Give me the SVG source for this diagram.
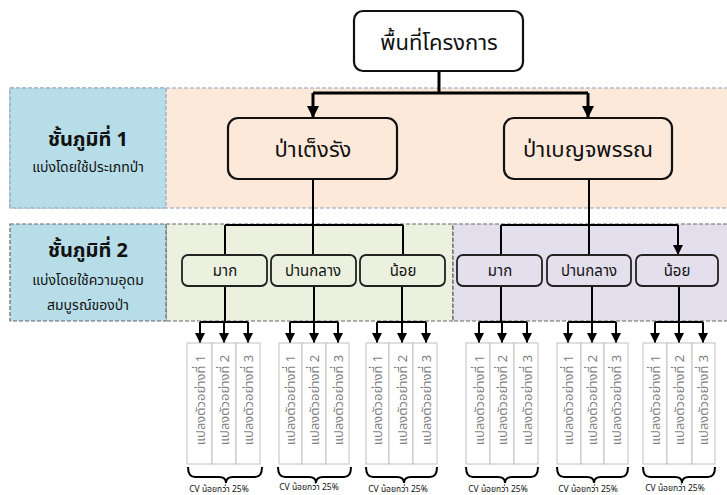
<svg xmlns="http://www.w3.org/2000/svg" width="727" height="495" viewBox="0 0 727 495">
<style>
text{font-family:"Noto Sans Thai","Noto Sans","DejaVu Sans",sans-serif;fill:#111;}
.big{font-size:22px;}
.mid{font-size:15px;}
.h{font-size:20px;font-weight:bold;}
.sub{font-size:14px;}
.plot{font-size:13px;fill:#7f7f7f;}
.cv{font-size:8.5px;}
.nb{fill:#fff;stroke:#111;stroke-width:2.2;}
.nb1{fill:none;stroke:#111;stroke-width:2.2;}
.nb2{fill:none;stroke:#222;stroke-width:1.8;}
.col{fill:#fff;stroke:#c0c0c0;stroke-width:1;}
.c3{fill:none;stroke:#000;stroke-width:3;}
.c2{fill:none;stroke:#000;stroke-width:2;}
.br{fill:none;stroke:#000;stroke-width:2;}
</style>
<defs>
<marker id="ah" viewBox="0 0 10 10" refX="10" refY="5" markerWidth="4" markerHeight="4" orient="auto" markerUnits="strokeWidth">
<path d="M0,0 L10,5 L0,10 z" fill="#000"/>
</marker>
<marker id="ah2" viewBox="0 0 10 10" refX="10" refY="5" markerWidth="5" markerHeight="5" orient="auto" markerUnits="strokeWidth">
<path d="M0,0 L10,5 L0,10 z" fill="#000"/>
</marker>
</defs>
<rect width="727" height="495" fill="#fff"/>
<g id="band1">
<rect x="10" y="88" width="718" height="120" fill="#fde9d9" stroke="#8ea3c0" stroke-width="1.2" stroke-dasharray="4 2"/>
<rect x="10" y="88" width="156" height="120" fill="#b7dde8" stroke="#8ea3c0" stroke-width="1.2" stroke-dasharray="4 2"/>
<text class="h" x="88" y="146" text-anchor="middle">ชั้นภูมิที่ 1</text>
<text class="sub" x="88" y="172" text-anchor="middle">แบ่งโดยใช้ประเภทป่า</text>
</g>
<g id="band2">
<rect x="166" y="224" width="287" height="97" fill="#ebf1de" stroke="#666" stroke-width="1.2" stroke-dasharray="4 2"/>
<rect x="453" y="224" width="275" height="97" fill="#e4dfec" stroke="#666" stroke-width="1.2" stroke-dasharray="4 2"/>
<rect x="10" y="224" width="156" height="97" fill="#b7dde8" stroke="#666" stroke-width="1.2" stroke-dasharray="4 2"/>
<text class="h" x="88" y="257" text-anchor="middle">ชั้นภูมิที่ 2</text>
<text class="sub" x="88" y="285" text-anchor="middle">แบ่งโดยใช้ความอุดม</text>
<text class="sub" x="88" y="310" text-anchor="middle">สมบูรณ์ของป่า</text>
</g>
<g id="connectors">
<path class="c3" d="M439,71 V93"/>
<path class="c3" d="M313,93 H588"/>
<path class="c3" d="M313,93 V118" marker-end="url(#ah)"/>
<path class="c3" d="M588,93 V118" marker-end="url(#ah)"/>
<path class="c2" d="M313,179 V225 M225,225 H403 M501,225 H678 M589,179 V225"/>
<path class="c2" d="M225,225 V255 M313,225 V255 M403,225 V255 M501,225 V255 M589,225 V255 M678,225 V255" marker-end="url(#ah2)"/>
<path class="c2" d="M225,286 V322 M200,322 H248 M314,286 V322 M290,322 H338 M402,286 V322 M377,322 H426 M501,286 V322 M479,322 H527 M592,286 V322 M568,322 H616 M679,286 V322 M655,322 H703"/>
<g marker-end="url(#ah2)">
<path class="c2" d="M200,322 V343"/><path class="c2" d="M224,322 V343"/><path class="c2" d="M248,322 V343"/>
<path class="c2" d="M290,322 V343"/><path class="c2" d="M314,322 V343"/><path class="c2" d="M338,322 V343"/>
<path class="c2" d="M377,322 V343"/><path class="c2" d="M402,322 V343"/><path class="c2" d="M426,322 V343"/>
<path class="c2" d="M479,322 V343"/><path class="c2" d="M502,322 V343"/><path class="c2" d="M527,322 V343"/>
<path class="c2" d="M568,322 V343"/><path class="c2" d="M592,322 V343"/><path class="c2" d="M616,322 V343"/>
<path class="c2" d="M655,322 V343"/><path class="c2" d="M679,322 V343"/><path class="c2" d="M703,322 V343"/>
</g>
</g>
<g id="n-root">
<rect class="nb" x="354" y="11" width="169" height="60" rx="9"/>
<text class="big" x="439" y="50" text-anchor="middle">พื้นที่โครงการ</text>
</g>
<g id="n-deciduous">
<rect class="nb1" x="228" y="118" width="169" height="61" rx="10"/>
<text class="big" x="313" y="157" text-anchor="middle">ป่าเต็งรัง</text>
</g>
<g id="n-mixed">
<rect class="nb1" x="504" y="118" width="168" height="61" rx="10"/>
<text class="big" x="588" y="157" text-anchor="middle">ป่าเบญจพรรณ</text>
</g>
<g id="n-d-high"><rect class="nb2" x="182" y="255" width="85" height="31" rx="6"/><text class="mid" x="225" y="276" text-anchor="middle">มาก</text></g>
<g id="n-d-mid"><rect class="nb2" x="271" y="255" width="85" height="31" rx="6"/><text class="mid" x="313" y="276" text-anchor="middle">ปานกลาง</text></g>
<g id="n-d-low"><rect class="nb2" x="360" y="255" width="85" height="31" rx="6"/><text class="mid" x="403" y="276" text-anchor="middle">น้อย</text></g>
<g id="n-m-high"><rect class="nb2" x="457" y="255" width="85" height="31" rx="6"/><text class="mid" x="500" y="276" text-anchor="middle">มาก</text></g>
<g id="n-m-mid"><rect class="nb2" x="547" y="255" width="84" height="31" rx="6"/><text class="mid" x="589" y="276" text-anchor="middle">ปานกลาง</text></g>
<g id="n-m-low"><rect class="nb2" x="636" y="255" width="82" height="31" rx="6"/><text class="mid" x="677" y="276" text-anchor="middle">น้อย</text></g>
<g id="plots1">
<rect class="col" x="187" y="343" width="25" height="121"/><rect class="col" x="212" y="343" width="24" height="121"/><rect class="col" x="236" y="343" width="24" height="121"/>
<text class="plot" transform="translate(200,400) rotate(-90)" text-anchor="middle" y="5">แปลงตัวอย่างที่ 1</text>
<text class="plot" transform="translate(224,400) rotate(-90)" text-anchor="middle" y="5">แปลงตัวอย่างที่ 2</text>
<text class="plot" transform="translate(248,400) rotate(-90)" text-anchor="middle" y="5">แปลงตัวอย่างที่ 3</text>
<path class="br" d="M188,467 Q188,477 195,477 H219 Q226,477 226,483 Q226,477 233,477 H255 Q262,477 262,467"/>
<text class="cv" x="219" y="492" text-anchor="middle">CV น้อยกว่า 25%</text>
</g>
<g id="plots2">
<rect class="col" x="279" y="343" width="23" height="121"/><rect class="col" x="302" y="343" width="24" height="121"/><rect class="col" x="326" y="343" width="23" height="121"/>
<text class="plot" transform="translate(290,400) rotate(-90)" text-anchor="middle" y="5">แปลงตัวอย่างที่ 1</text>
<text class="plot" transform="translate(314,400) rotate(-90)" text-anchor="middle" y="5">แปลงตัวอย่างที่ 2</text>
<text class="plot" transform="translate(338,400) rotate(-90)" text-anchor="middle" y="5">แปลงตัวอย่างที่ 3</text>
<path class="br" d="M278,467 Q278,477 285,477 H309 Q316,477 316,483 Q316,477 323,477 H344 Q351,477 351,467"/>
<text class="cv" x="309" y="490" text-anchor="middle">CV น้อยกว่า 25%</text>
</g>
<g id="plots3">
<rect class="col" x="366" y="343" width="23" height="121"/><rect class="col" x="389" y="343" width="24" height="121"/><rect class="col" x="413" y="343" width="24" height="121"/>
<text class="plot" transform="translate(377,400) rotate(-90)" text-anchor="middle" y="5">แปลงตัวอย่างที่ 1</text>
<text class="plot" transform="translate(402,400) rotate(-90)" text-anchor="middle" y="5">แปลงตัวอย่างที่ 2</text>
<text class="plot" transform="translate(426,400) rotate(-90)" text-anchor="middle" y="5">แปลงตัวอย่างที่ 3</text>
<path class="br" d="M366,467 Q366,477 373,477 H397 Q404,477 404,483 Q404,477 411,477 H430 Q437,477 437,467"/>
<text class="cv" x="398" y="492" text-anchor="middle">CV น้อยกว่า 25%</text>
</g>
<g id="plots4">
<rect class="col" x="466" y="343" width="24" height="121"/><rect class="col" x="490" y="343" width="24" height="121"/><rect class="col" x="514" y="343" width="24" height="121"/>
<text class="plot" transform="translate(479,400) rotate(-90)" text-anchor="middle" y="5">แปลงตัวอย่างที่ 1</text>
<text class="plot" transform="translate(502,400) rotate(-90)" text-anchor="middle" y="5">แปลงตัวอย่างที่ 2</text>
<text class="plot" transform="translate(527,400) rotate(-90)" text-anchor="middle" y="5">แปลงตัวอย่างที่ 3</text>
<path class="br" d="M466,467 Q466,477 473,477 H498 Q505,477 505,483 Q505,477 512,477 H531 Q538,477 538,467"/>
<text class="cv" x="498" y="492" text-anchor="middle">CV น้อยกว่า 25%</text>
</g>
<g id="plots5">
<rect class="col" x="557" y="343" width="24" height="121"/><rect class="col" x="581" y="343" width="23" height="121"/><rect class="col" x="604" y="343" width="24" height="121"/>
<text class="plot" transform="translate(568,400) rotate(-90)" text-anchor="middle" y="5">แปลงตัวอย่างที่ 1</text>
<text class="plot" transform="translate(592,400) rotate(-90)" text-anchor="middle" y="5">แปลงตัวอย่างที่ 2</text>
<text class="plot" transform="translate(616,400) rotate(-90)" text-anchor="middle" y="5">แปลงตัวอย่างที่ 3</text>
<path class="br" d="M557,467 Q557,477 564,477 H587 Q594,477 594,483 Q594,477 601,477 H621 Q628,477 628,467"/>
<text class="cv" x="588" y="492" text-anchor="middle">CV น้อยกว่า 25%</text>
</g>
<g id="plots6">
<rect class="col" x="643" y="343" width="24" height="121"/><rect class="col" x="667" y="343" width="25" height="121"/><rect class="col" x="692" y="343" width="23" height="121"/>
<text class="plot" transform="translate(655,400) rotate(-90)" text-anchor="middle" y="5">แปลงตัวอย่างที่ 1</text>
<text class="plot" transform="translate(679,400) rotate(-90)" text-anchor="middle" y="5">แปลงตัวอย่างที่ 2</text>
<text class="plot" transform="translate(703,400) rotate(-90)" text-anchor="middle" y="5">แปลงตัวอย่างที่ 3</text>
<path class="br" d="M643,467 Q643,477 650,477 H675 Q682,477 682,483 Q682,477 689,477 H708 Q715,477 715,467"/>
<text class="cv" x="675" y="491" text-anchor="middle">CV น้อยกว่า 25%</text>
</g>
</svg>
